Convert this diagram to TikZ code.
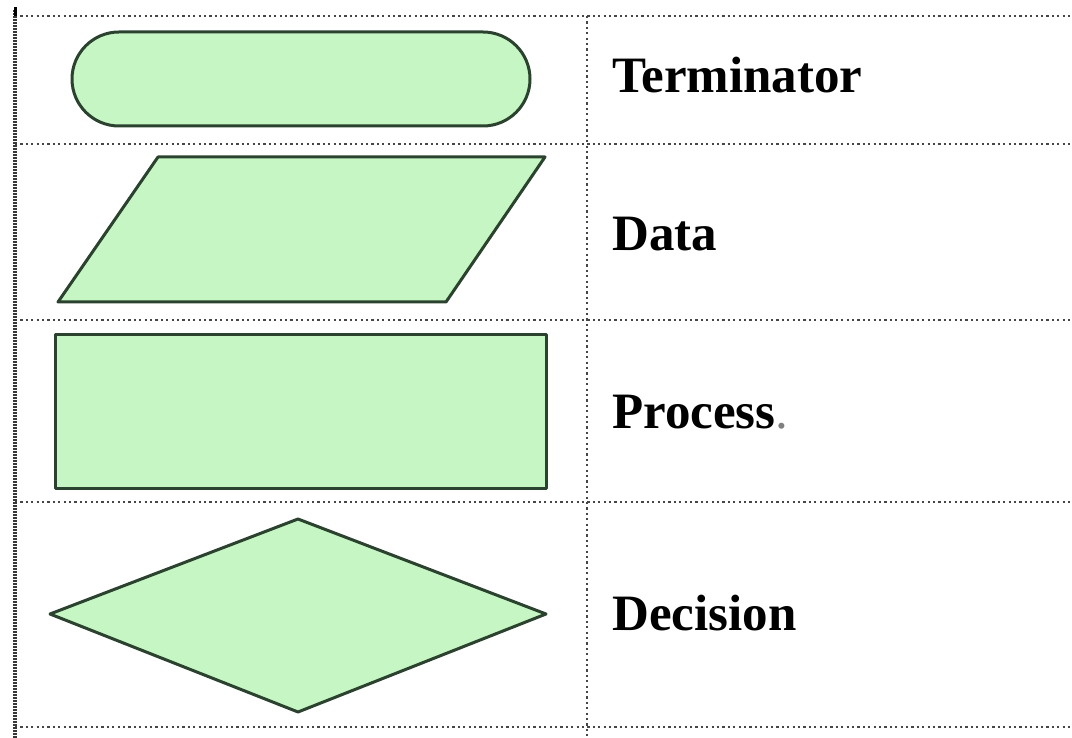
\documentclass[tikz,border=0pt]{standalone}
\usepackage{fontspec}
\setmainfont{Liberation Serif}
\definecolor{shapefill}{RGB}{198,246,196}
\definecolor{shapeline}{RGB}{42,66,46}
\definecolor{gridline}{RGB}{70,70,70}
\begin{document}
\begin{tikzpicture}[x=1pt,y=-1pt,
  gridrule/.style={draw=gridline,line width=2.6pt,dash pattern=on 2.2pt off 3.2pt},
  borderrule/.style={draw=gridline!80!black,line width=4pt,dash pattern=on 1.6pt off 1.4pt},
  symbol/.style={fill=shapefill,draw=shapeline,line width=3pt,line join=round},
  label/.style={anchor=base west,inner sep=0pt,font=\fontsize{51}{60}\selectfont\bfseries}]
\useasboundingbox (0,0) rectangle (1072,738);
% grid
\draw[gridrule] (15,16) -- (1072,16);
\draw[gridrule] (15,144) -- (1072,144);
\draw[gridrule] (15,320) -- (1072,320);
\draw[gridrule] (15,502) -- (1072,502);
\draw[gridrule] (15,727) -- (1072,727);
\draw[gridrule] (587,16) -- (587,738);
\draw[borderrule] (15,10) -- (15,738);
\draw[line width=3pt,black] (15,7) -- (15,16);
% shapes
\draw[symbol,rounded corners=47pt] (72,32) rectangle (530,126);
\draw[symbol] (158,157) -- (545,157) -- (446,302) -- (58,302) -- cycle;
\draw[symbol] (55,335) rectangle (546,488);
\draw[symbol] (298,519) -- (546,614) -- (298,712) -- (50,614) -- cycle;
% labels
\node[label] (t1) at (612,93) {Terminator};
\node[label] (t2) at (612,251) {Data};
\node[label] (t3) at (612,428) {Process{\mdseries\color{gray}.}};
\node[label] (t4) at (612,630) {Decision};
\end{tikzpicture}
\end{document}
